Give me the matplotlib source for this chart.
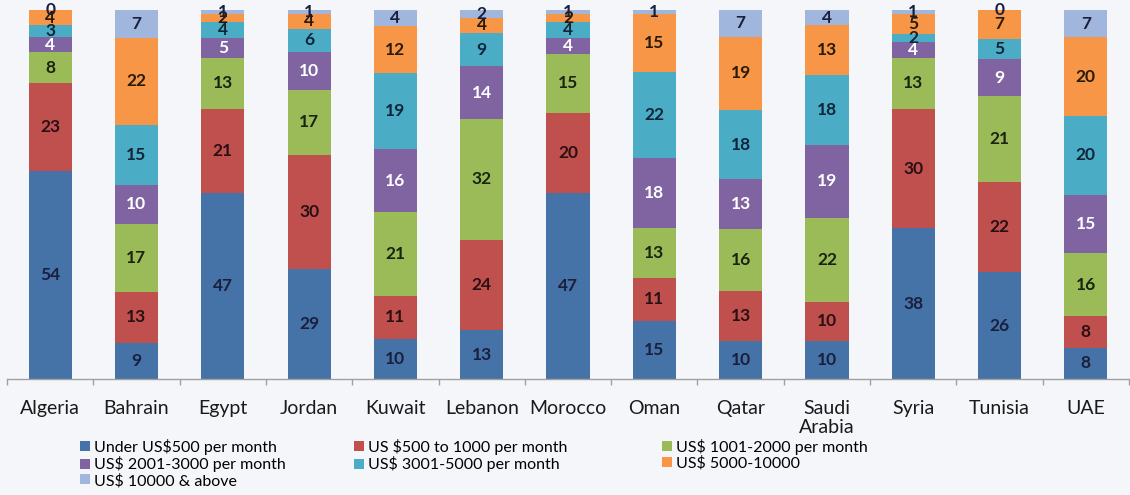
import matplotlib
matplotlib.use('Agg')
import matplotlib.pyplot as plt
import numpy as np

# Income distribution by country (% of respondents)
countries = ['Algeria', 'Bahrain', 'Egypt', 'Jordan', 'Kuwait', 'Lebanon', 'Morocco',
             'Oman', 'Qatar', 'Saudi\nArabia', 'Syria', 'Tunisia', 'UAE']
series_names = ['Under US$500 per month', 'US $500 to 1000 per month',
                'US$ 1001-2000 per month', 'US$ 2001-3000 per month',
                'US$ 3001-5000 per month', 'US$ 5000-10000', 'US$ 10000 & above']

under_500 = [54, 9, 47, 29, 10, 13, 47, 15, 10, 10, 38, 26, 8]
r500_1000 = [23, 13, 21, 30, 11, 24, 20, 11, 13, 10, 30, 22, 8]
r1001_2000 = [8, 17, 13, 17, 21, 32, 15, 13, 16, 22, 13, 21, 16]
r2001_3000 = [4, 10, 5, 10, 16, 14, 4, 18, 13, 19, 4, 9, 15]
r3001_5000 = [3, 15, 4, 6, 19, 9, 4, 22, 18, 18, 2, 5, 20]
r5000_10000 = [4, 22, 2, 4, 12, 4, 2, 15, 19, 13, 5, 7, 20]
over_10000 = [0, 7, 1, 1, 4, 2, 1, 1, 7, 4, 1, 0, 7]

series = [under_500, r500_1000, r1001_2000, r2001_3000, r3001_5000, r5000_10000, over_10000]
colors = ['#4572A7', '#C0504D', '#9BBB59', '#8064A2', '#4BACC6', '#F79646', '#A0B6DC']
label_colors = ['#1a1f3d', '#2a0f14', '#1a2410', 'white', '#10243a', '#2a1a08', '#1a1f3d']

plt.rcParams['font.family'] = ['Lato', 'DejaVu Sans']

fig = plt.figure(figsize=(11.3, 4.95), dpi=100)
fig.patch.set_facecolor('#f4f6fa')
ax = fig.add_axes([7 / 1130, 116 / 495, 1122 / 1130, 369 / 495])
ax.set_facecolor('none')

data = np.array(series, dtype=float)
pct = data / data.sum(axis=0) * 100
x = np.arange(len(countries))
bottom = np.zeros(len(countries))

handles = []
for i, name in enumerate(series_names):
    bars = ax.bar(x, pct[i], 0.5, bottom=bottom, color=colors[i], label=name,
                  edgecolor='none')
    handles.append(bars)
    for j in range(len(countries)):
        ax.text(x[j], bottom[j] + pct[i][j] / 2, str(series[i][j]),
                ha='center', va='center', fontsize=12.5, fontweight='bold',
                color=label_colors[i])
    bottom += pct[i]

ax.set_xlim(-0.5, 12.5)
ax.set_ylim(0, 100)
ax.set_yticks([])
for s in ['top', 'right', 'left']:
    ax.spines[s].set_visible(False)
ax.spines['bottom'].set_color('#a0a0a0')
ax.spines['bottom'].set_linewidth(1)

ax.set_xticks(x)
ax.set_xticklabels(countries, fontsize=14, color='#1a1a1a', linespacing=1.15)
ax.tick_params(axis='x', length=0, pad=15)
ax.set_xticks(np.arange(-0.5, 13, 1), minor=True)
ax.tick_params(axis='x', which='minor', length=4, color='#a0a0a0', width=1)

# legend laid out row-wise in three columns, like the original
columns = [[0, 3, 6], [1, 4], [2, 5]]
col_x = [80, 354, 662]
for idx, cx in zip(columns, col_x):
    fig.legend(handles=[handles[k] for k in idx], labels=[series_names[k] for k in idx],
               loc='upper left', bbox_to_anchor=(cx / 1130, 1 - 439 / 495),
               ncol=1, frameon=False, fontsize=11.5, handlelength=0.6, handleheight=0.6,
               handletextpad=0.3, labelspacing=0.08, borderpad=0, borderaxespad=0)

fig.savefig('out.png', dpi=100, facecolor=fig.get_facecolor())
